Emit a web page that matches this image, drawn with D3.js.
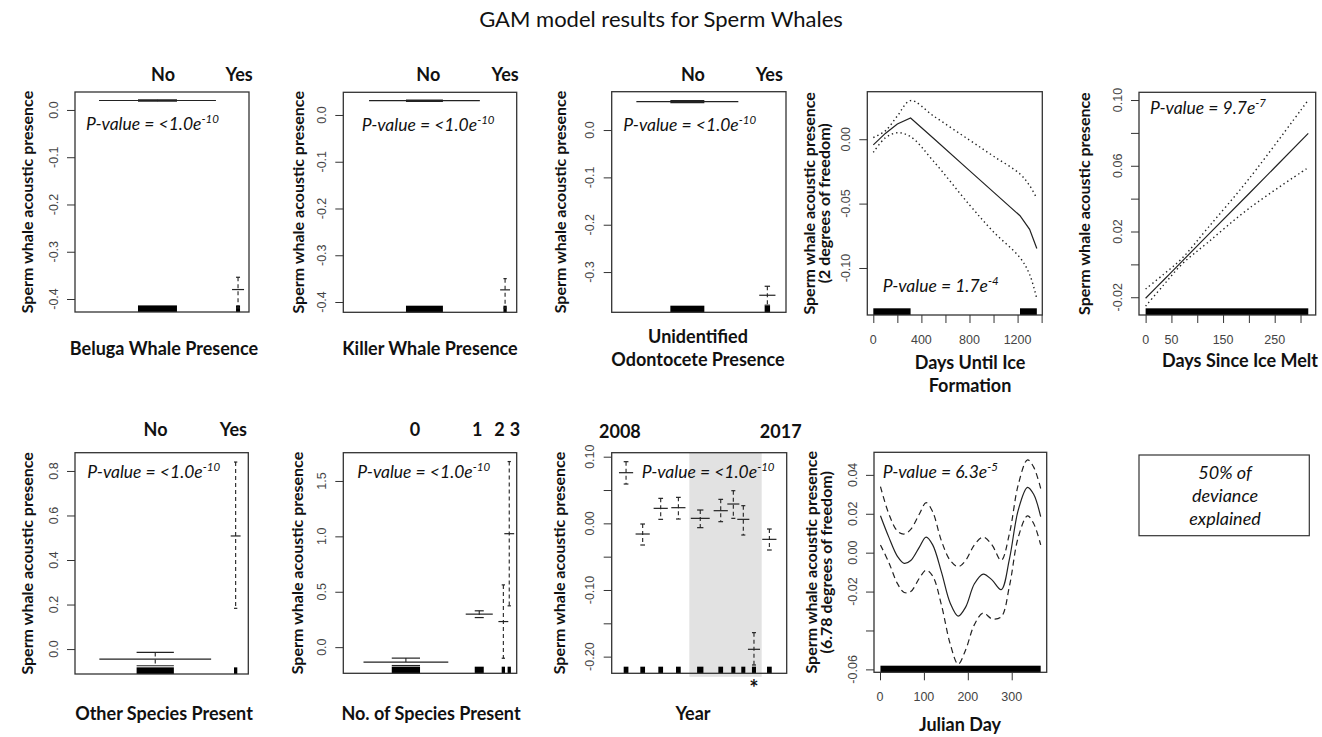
<!DOCTYPE html>
<html>
<head>
<meta charset="utf-8">
<script src="https://cdn.jsdelivr.net/npm/d3@7"></script>
<style>
body{margin:0;background:#fff;}
svg text{font-family:Lato,"Open Sans",sans-serif;fill:#111;}
text.tk{font-family:"Liberation Sans",Arial,sans-serif;fill:#444;font-size:12.5px;}
</style>
</head>
<body>
<div id="plot"></div>
<script>
// ---- data ----
var noYes = ["No","Yes"];

// factor terms: level centre (0-100 across the panel), relative weight, fit, upper se, lower se
var belugaPos = [47.4, 93.7], belugaW = [22.4, 2.3];
var belugaFit = [0.020, -0.380], belugaUp = [0.0215, -0.354], belugaLo = [0.0185, -0.419];

var killerPos = [46.8, 93.3], killerW = [21.3, 1.9];
var killerFit = [0.0306, -0.374], killerUp = [0.032, -0.350], killerLo = [0.029, -0.413];

var odontoPos = [43.4, 89.3], odontoW = [19.5, 3.1];
var odontoFit = [0.060, -0.349], odontoUp = [0.062, -0.330], odontoLo = [0.058, -0.370];

var otherPos = [46.3, 92.7], otherW = [21.5, 1.9];
var otherFit = [-0.045, 0.508], otherUp = [-0.015, 0.840], otherLo = [-0.075, 0.183];

var nSpecies = ["0","1","2","3"];
var nSpPos = [36.1, 78.4, 92.3, 95.7], nSpW = [16.3, 5.2, 1.9, 1.9];
var nSpFit = [-0.135, 0.298, 0.231, 1.024], nSpUp = [-0.099, 0.328, 0.562, 1.675], nSpLo = [-0.166, 0.267, -0.100, 0.373];

var years = [2008,2009,2010,2011,2012,2013,2014,2015,2016,2017];
var yearPos = [8.2, 17.7, 28.0, 38.1, 50.6, 62.3, 69.5, 75.2, 81.3, 90.1];
var yearW = [2.7, 2.7, 2.7, 2.7, 3.6, 2.7, 2.3, 2.3, 2.3, 2.7];
var yearFit = [0.076, -0.016, 0.0225, 0.0235, 0.0075, 0.019, 0.029, 0.006, -0.189, -0.024];
var yearUp  = [0.0925, -0.001, 0.0375, 0.039, 0.020, 0.036, 0.049, 0.0265, -0.164, -0.0085];
var yearLo  = [0.059, -0.0325, 0.006, 0.0065, -0.0065, 0.0025, 0.0075, -0.0175, -0.2125, -0.040];
var yearShaded = [4, 8];      // index range of shaded years
var yearSignif = 8;           // year marked with *

// smooth: days until ice formation
var iceX   = [0, 100, 200, 310, 500, 800, 1000, 1220, 1300, 1360];
var iceFit = [-0.0044, 0.0045, 0.0118, 0.0165, 0.0007, -0.0244, -0.0411, -0.0594, -0.0700, -0.0848];
var iceUp  = [0.0013, 0.0065, 0.0180, 0.0300, 0.0181, -0.0007, -0.0132, -0.0270, -0.0360, -0.0460];
var iceLo  = [-0.0103, 0.0010, 0.0050, 0.0020, -0.0170, -0.0510, -0.0720, -0.0920, -0.1050, -0.1240];
var iceRug = [[0, 310], [1220, 1360]];

// linear: days since ice melt
var meltX   = [0, 35, 70, 120, 200, 315];
var meltFit = [-0.0206, -0.0095, 0.0017, 0.0176, 0.0430, 0.0797];
var meltUp  = [-0.0150, -0.0060, 0.0035, 0.0220, 0.0520, 0.1000];
var meltLo  = [-0.0254, -0.0125, 0.0000, 0.0132, 0.0340, 0.0589];
var meltRug = [[0, 315]];

// smooth: julian day
var jdX   = [1, 20, 40, 55, 70, 90, 105, 120, 140, 160, 178, 195, 215, 235, 255, 276, 295, 315, 336, 350, 366];
var jdFit = [0.019, 0.008, -0.002, -0.0055, -0.004, 0.003, 0.008, 0.004, -0.010, -0.026, -0.0326, -0.028, -0.016, -0.011, -0.014, -0.019, -0.003, 0.022, 0.0336, 0.030, 0.0185];
var jdUp  = [0.034, 0.020, 0.011, 0.0096, 0.012, 0.020, 0.0257, 0.021, 0.006, -0.004, -0.0072, -0.004, 0.004, 0.008, 0.004, -0.004, 0.010, 0.035, 0.0477, 0.044, 0.033];
var jdLo  = [0.004, -0.005, -0.016, -0.0205, -0.020, -0.013, -0.009, -0.012, -0.027, -0.047, -0.0573, -0.050, -0.037, -0.031, -0.034, -0.033, -0.017, 0.008, 0.0189, 0.015, 0.004];
var jdRug = [[1, 366]];

var yLab = "Sperm whale acoustic presence";

var svg = d3.select('#plot').append('svg')
    .attr('width', 1322).attr('height', 737);

svg.append('text').attr('x', 661).attr('y', 27)
    .attr('text-anchor', 'middle').style('font-size', '22px')
    .text('GAM model results for Sperm Whales');

// panel frame with scales
function panel(box, xd, yd) {
    var g = svg.append('g');
    var x = d3.scaleLinear().domain(xd).range([box.l, box.r]);
    var y = d3.scaleLinear().domain(yd).range([box.b, box.t]);
    return {g: g, x: x, y: y, box: box};
}
function drawBox(p) {
    p.g.append('rect').attr('x', p.box.l).attr('y', p.box.t)
        .attr('width', p.box.r - p.box.l).attr('height', p.box.b - p.box.t)
        .attr('fill', 'none').attr('stroke', '#333').attr('stroke-width', 1.3);
}
function leftAxis(p, ticks, fmt) {
    var ax = p.g.append('g').attr('transform', 'translate(' + p.box.l + ',0)')
        .call(d3.axisLeft(p.y).tickValues(ticks).tickSize(8).tickFormat(''));
    ax.select('.domain').remove();
    ax.selectAll('line').attr('stroke', '#333');
    p.g.selectAll(null).data(ticks.filter(function(t){ return fmt(t) !== ''; })).enter()
        .append('text').attr('class', 'tk')
        .attr('transform', function(t){ return 'translate(' + (p.box.l - 22) + ',' + p.y(t) + ') rotate(-90)'; })
        .attr('text-anchor', 'middle').attr('dy', '0.36em')
        .text(fmt);
}
function bottomAxis(p, ticks, labels) {
    var ax = p.g.append('g').attr('transform', 'translate(0,' + p.box.b + ')')
        .call(d3.axisBottom(p.x).tickValues(ticks).tickSize(8).tickFormat(''));
    ax.select('.domain').remove();
    ax.selectAll('line').attr('stroke', '#333');
    p.g.selectAll(null).data(labels).enter().append('text').attr('class', 'tk')
        .attr('x', function(t){ return p.x(t); }).attr('y', p.box.b + 29)
        .attr('text-anchor', 'middle').text(function(t){ return t; });
}
function yTitle(p, x, lines) {
    var cy = (p.box.t + p.box.b) / 2;
    lines.forEach(function(s, i) {
        p.g.append('text')
            .attr('transform', 'translate(' + x[i] + ',' + cy + ') rotate(-90)')
            .attr('text-anchor', 'middle').attr('dy', '0.35em')
            .style('font-size', '16px').style('font-weight', 700).text(s);
    });
}
function xTitle(p, cx, y0, lines) {
    lines.forEach(function(s, i) {
        p.g.append('text').attr('x', cx).attr('y', y0 + i * 23)
            .attr('text-anchor', 'middle')
            .style('font-size', '18px').style('font-weight', 700).text(s);
    });
}
function pval(p, x, y, base, sup) {
    var t = p.g.append('text').attr('x', x).attr('y', y)
        .style('font-size', '17.5px').style('font-style', 'italic');
    t.append('tspan').text(base);
    t.append('tspan').attr('dy', -7).style('font-size', '11.5px').text(sup);
}
function rug(p, spans) {
    var h = 0.03 * (p.box.b - p.box.t);
    p.g.selectAll(null).data(spans).enter().append('rect')
        .attr('x', function(d){ return p.x(d[0]); })
        .attr('width', function(d){ return Math.max(1.5, p.x(d[1]) - p.x(d[0])); })
        .attr('y', p.box.b - h).attr('height', h).attr('fill', '#000');
}
function factorMarks(p, pos, w, fit, up, lo) {
    var h = 0.03 * (p.box.b - p.box.t);
    pos.forEach(function(c, i) {
        var cx = p.x(c), hw = (p.x(w[i]) - p.x(0)) / 2;
        p.g.append('rect').attr('x', cx - hw).attr('width', 2 * hw)
            .attr('y', p.box.b - h).attr('height', h).attr('fill', '#000');
        p.g.append('line').attr('x1', cx).attr('x2', cx)
            .attr('y1', p.y(up[i])).attr('y2', p.y(lo[i]))
            .attr('stroke', '#222').attr('stroke-width', 1.1).attr('stroke-dasharray', '4,3');
        [up[i], lo[i]].forEach(function(v) {
            p.g.append('line').attr('x1', cx - hw).attr('x2', cx + hw)
                .attr('y1', p.y(v)).attr('y2', p.y(v))
                .attr('stroke', '#222').attr('stroke-width', 1.2);
        });
        p.g.append('line').attr('x1', cx - 3 * hw).attr('x2', cx + 3 * hw)
            .attr('y1', p.y(fit[i])).attr('y2', p.y(fit[i]))
            .attr('stroke', '#222').attr('stroke-width', 1.2);
    });
}
function topLabels(p, labels, pos, y) {
    p.g.selectAll(null).data(labels).enter().append('text')
        .attr('x', function(d, i){ return p.x(pos[i]); }).attr('y', y)
        .attr('text-anchor', 'middle')
        .style('font-size', '18px').style('font-weight', 700).text(function(d){ return d; });
}
function curve(p, xs, ys, dash, c) {
    var line = d3.line().x(function(d){ return p.x(d[0]); }).y(function(d){ return p.y(d[1]); })
        .curve(c || d3.curveCatmullRom);
    p.g.append('path').datum(xs.map(function(v, i){ return [v, ys[i]]; }))
        .attr('d', line).attr('fill', 'none').attr('stroke', '#222')
        .attr('stroke-width', dash === '1.4,3' ? 1.4 : 1.2)
        .attr('stroke-dasharray', dash);
}
var f1 = d3.format('.1f'), f2 = d3.format('.2f');
function minus(s){ return s.replace('−', '-'); }

// ---- row 1 ----
var p1 = panel({l: 75, r: 249, t: 92, b: 312}, [0, 100], [-0.4275, 0.038]);
factorMarks(p1, belugaPos, belugaW, belugaFit, belugaUp, belugaLo);
drawBox(p1);
leftAxis(p1, [0, -0.1, -0.2, -0.3, -0.4], function(t){ return minus(f1(t)); });
topLabels(p1, noYes, [50.6, 94.3], 81);
yTitle(p1, [27], [yLab]);
xTitle(p1, 164, 355, ['Beluga Whale Presence']);
pval(p1, 86, 130, 'P-value = <1.0e', '-10');

var p2 = panel({l: 343.3, r: 516.7, t: 92.3, b: 312.3}, [0, 100], [-0.422, 0.0485]);
factorMarks(p2, killerPos, killerW, killerFit, killerUp, killerLo);
drawBox(p2);
leftAxis(p2, [0, -0.1, -0.2, -0.3, -0.4], function(t){ return minus(f1(t)); });
topLabels(p2, noYes, [49.0, 93.3], 81);
yTitle(p2, [298], [yLab]);
xTitle(p2, 430, 355, ['Killer Whale Presence']);
pval(p2, 361.7, 131, 'P-value = <1.0e', '-10');

var p3 = panel({l: 611.7, r: 786, t: 91.7, b: 312.3}, [0, 100], [-0.385, 0.081]);
factorMarks(p3, odontoPos, odontoW, odontoFit, odontoUp, odontoLo);
drawBox(p3);
leftAxis(p3, [0, -0.1, -0.2, -0.3], function(t){ return minus(f1(t)); });
topLabels(p3, noYes, [46.6, 90.4], 81);
yTitle(p3, [560], [yLab]);
xTitle(p3, 698, 343, ['Unidentified', 'Odontocete Presence']);
pval(p3, 623.3, 131, 'P-value = <1.0e', '-10');

var p4 = panel({l: 867.3, r: 1042.3, t: 91.7, b: 315}, [-50, 1405.5], [-0.1365, 0.0369]);
rug(p4, iceRug);
curve(p4, iceX, iceUp, '1.4,3');
curve(p4, iceX, iceLo, '1.4,3');
curve(p4, iceX, iceFit, null, d3.curveLinear);
drawBox(p4);
leftAxis(p4, [0, -0.05, -0.10], function(t){ return minus(f2(t)); });
bottomAxis(p4, [0, 200, 400, 600, 800, 1000, 1200, 1400], [0, 400, 800, 1200]);
yTitle(p4, [809, 824], [yLab, '(2 degrees of freedom)']);
xTitle(p4, 970, 369, ['Days Until Ice', 'Formation']);
pval(p4, 882.7, 292, 'P-value = 1.7e', '-4');

var p5 = panel({l: 1139, r: 1315.7, t: 92.3, b: 315}, [-12.8, 329.4], [-0.0308, 0.1047]);
rug(p5, meltRug);
curve(p5, meltX, meltUp, '1.4,3');
curve(p5, meltX, meltLo, '1.4,3');
curve(p5, meltX, meltFit, null);
drawBox(p5);
leftAxis(p5, [-0.02, 0, 0.02, 0.04, 0.06, 0.08, 0.10], function(t){
    return [-0.02, 0.02, 0.06, 0.10].some(function(v){ return Math.abs(v - t) < 1e-9; }) ? minus(f2(t)) : '';
});
bottomAxis(p5, [0, 50, 100, 150, 200, 250, 300], [0, 50, 150, 250]);
yTitle(p5, [1084], [yLab]);
xTitle(p5, 1240, 367, ['Days Since Ice Melt']);
pval(p5, 1150, 114, 'P-value = 9.7e', '-7');

// ---- row 2 ----
var p6 = panel({l: 75, r: 248.3, t: 452.7, b: 674}, [0, 100], [-0.112, 0.882]);
factorMarks(p6, otherPos, otherW, otherFit, otherUp, otherLo);
drawBox(p6);
leftAxis(p6, [0, 0.2, 0.4, 0.6, 0.8], function(t){ return f1(t); });
topLabels(p6, noYes, [46.5, 91.4], 436);
yTitle(p6, [27], [yLab]);
xTitle(p6, 164, 720, ['Other Species Present']);
pval(p6, 87.3, 478, 'P-value = <1.0e', '-10');

var p7 = panel({l: 343.3, r: 516.7, t: 452.7, b: 673.3}, [0, 100], [-0.236, 1.755]);
factorMarks(p7, nSpPos, nSpW, nSpFit, nSpUp, nSpLo);
drawBox(p7);
leftAxis(p7, [0, 0.5, 1.0, 1.5], function(t){ return f1(t); });
topLabels(p7, nSpecies, [41.3, 77.3, 90.0, 99.0], 436);
yTitle(p7, [297], [yLab]);
xTitle(p7, 431, 720, ['No. of Species Present']);
pval(p7, 357.3, 478, 'P-value = <1.0e', '-10');

var p8 = panel({l: 611.7, r: 786.7, t: 452.7, b: 673.3}, [0, 100], [-0.225, 0.106]);
var s0 = (yearPos[yearShaded[0] - 1] + yearPos[yearShaded[0]]) / 2,
    s1 = (yearPos[yearShaded[1]] + yearPos[yearShaded[1] + 1]) / 2;
p8.g.append('rect').attr('x', p8.x(s0)).attr('width', p8.x(s1) - p8.x(s0))
    .attr('y', p8.box.t).attr('height', p8.box.b - p8.box.t + 3.5).attr('fill', '#e2e2e2');
factorMarks(p8, yearPos, yearW, yearFit, yearUp, yearLo);
drawBox(p8);
leftAxis(p8, [0.10, 0.05, 0, -0.05, -0.10, -0.15, -0.20], function(t){
    return [0.10, 0, -0.10, -0.20].some(function(v){ return Math.abs(v - t) < 1e-9; }) ? minus(f2(t)) : '';
});
topLabels(p8, [years[0], years[years.length - 1]], [4.7, 96.6], 438);
p8.g.append('text').attr('x', p8.x(yearPos[yearSignif])).attr('y', 696)
    .attr('text-anchor', 'middle').style('font-size', '22px').style('font-weight', 700).text('*');
yTitle(p8, [559], [yLab]);
xTitle(p8, 693, 720, ['Year']);
pval(p8, 641.7, 478, 'P-value = <1.0e', '-10');

var p9 = panel({l: 874, r: 1046.7, t: 452.3, b: 672.3}, [-13.7, 379.7], [-0.0615, 0.0516]);
rug(p9, jdRug);
curve(p9, jdX, jdUp, '6,4');
curve(p9, jdX, jdLo, '6,4');
curve(p9, jdX, jdFit, null);
drawBox(p9);
leftAxis(p9, [0.04, 0.02, 0, -0.02, -0.04, -0.06], function(t){
    return Math.abs(t + 0.04) < 1e-9 ? '' : minus(f2(t));
});
bottomAxis(p9, [0, 100, 200, 300], [0, 100, 200, 300]);
yTitle(p9, [811, 826], [yLab, '(6.78 degrees of freedom)']);
xTitle(p9, 960, 731, ['Julian Day']);
pval(p9, 882.7, 478, 'P-value = 6.3e', '-5');

// deviance box
var dev = svg.append('g');
dev.append('rect').attr('x', 1139).attr('y', 455).attr('width', 170.3).attr('height', 80.7)
    .attr('fill', 'none').attr('stroke', '#333').attr('stroke-width', 1.2);
['50% of', 'deviance', 'explained'].forEach(function(s, i) {
    dev.append('text').attr('x', 1225).attr('y', 479 + i * 23)
        .attr('text-anchor', 'middle').style('font-size', '18px').style('font-style', 'italic').text(s);
});
</script>
</body>
</html>
